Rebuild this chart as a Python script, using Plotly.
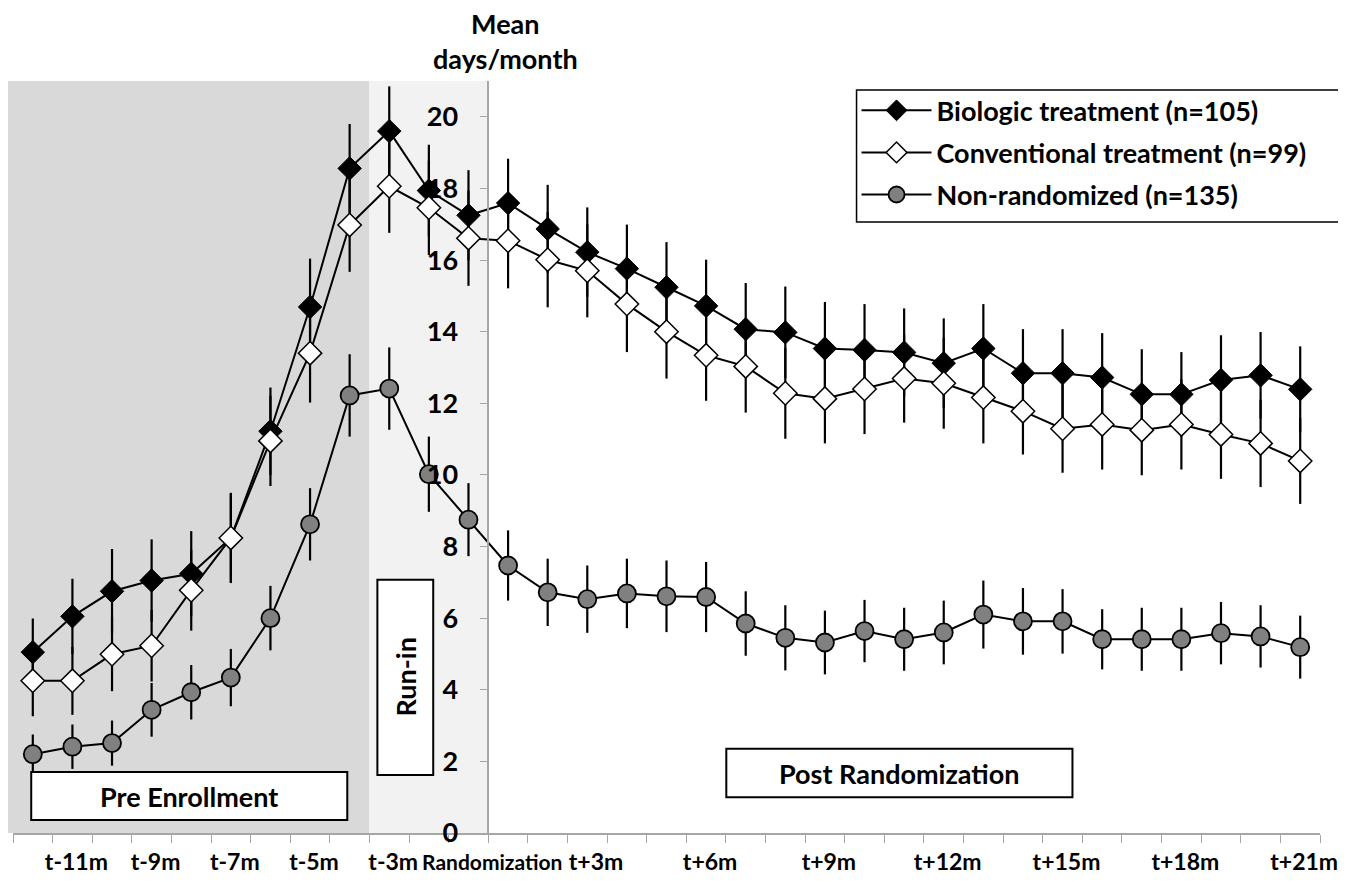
import plotly.graph_objects as go

# ---- data -------------------------------------------------------------
periods = ["t-12m", "t-11m", "t-10m", "t-9m", "t-8m", "t-7m", "t-6m", "t-5m",
           "t-4m", "t-3m", "Run-in", "Randomization",
           "t+1m", "t+2m", "t+3m", "t+4m", "t+5m", "t+6m", "t+7m", "t+8m",
           "t+9m", "t+10m", "t+11m", "t+12m", "t+13m", "t+14m", "t+15m",
           "t+16m", "t+17m", "t+18m", "t+19m", "t+20m", "t+21m"]

biologic = [5.05, 6.05, 6.75, 7.05, 7.24, 8.24, 11.22, 14.69, 18.56, 19.60, 17.94,
            17.25, 17.59, 16.87, 16.22, 15.76, 15.24, 14.72, 14.07, 13.98, 13.53,
            13.49, 13.42, 13.12, 13.53, 12.84, 12.84, 12.72, 12.25, 12.25, 12.65,
            12.78, 12.39]
biologic_err = [0.94, 1.05, 1.18, 1.15, 1.19, 1.26, 1.22, 1.35, 1.24, 1.25, 1.28,
                1.26, 1.24, 1.23, 1.25, 1.23, 1.26, 1.29, 1.29, 1.28, 1.30,
                1.28, 1.23, 1.25, 1.24, 1.23, 1.23, 1.24, 1.26, 1.18, 1.25,
                1.21, 1.20]

conventional = [4.25, 4.25, 4.99, 5.23, 6.78, 8.24, 10.95, 13.40, 16.98, 18.06, 17.46,
                16.61, 16.54, 16.01, 15.70, 14.77, 14.00, 13.34, 13.03, 12.28, 12.13,
                12.40, 12.69, 12.56, 12.16, 11.78, 11.29, 11.41, 11.25, 11.41, 11.13,
                10.88, 10.39]
conventional_err = [0.99, 0.95, 1.03, 1.00, 1.13, 1.24, 1.26, 1.38, 1.31, 1.30, 1.32,
                    1.33, 1.33, 1.33, 1.30, 1.34, 1.31, 1.27, 1.29, 1.27, 1.25,
                    1.26, 1.23, 1.27, 1.28, 1.21, 1.23, 1.26, 1.26, 1.26, 1.24,
                    1.22, 1.20]

nonrandomized = [2.20, 2.41, 2.51, 3.44, 3.93, 4.34, 6.00, 8.62, 12.22, 12.41, 10.02,
                 8.75, 7.47, 6.72, 6.53, 6.69, 6.61, 6.59, 5.85, 5.45, 5.32,
                 5.64, 5.41, 5.60, 6.10, 5.91, 5.91, 5.41, 5.41, 5.41, 5.58,
                 5.49, 5.19]
nonrandomized_err = [0.55, 0.62, 0.63, 0.75, 0.76, 0.80, 0.90, 1.01, 1.15, 1.15, 1.05,
                     1.02, 0.98, 0.94, 0.94, 0.97, 1.00, 0.98, 0.90, 0.91, 0.89,
                     0.87, 0.88, 0.89, 0.95, 0.93, 0.90, 0.84, 0.88, 0.88, 0.87,
                     0.87, 0.88]

tick_labels = ["t-11m", "t-9m", "t-7m", "t-5m", "t-3m", "Randomization", "t+3m",
               "t+6m", "t+9m", "t+12m", "t+15m", "t+18m", "t+21m"]

series_names = ["Biologic treatment (n=105)", "Conventional treatment (n=99)",
                "Non-randomized (n=135)"]
y_ticks = [0, 2, 4, 6, 8, 10, 12, 14, 16, 18, 20]

# ---- figure -----------------------------------------------------------
FONT = "Lato"
xs = list(range(len(periods)))
label_shift = {"Randomization": 0.6, "t+3m": 0.22}
tick_pos = [periods.index(t) + label_shift.get(t, 0.1) for t in tick_labels]
tick_text = [("<span style='font-size:21px'>%s</span>" % t) if t == "Randomization" else t
             for t in tick_labels]

fig = go.Figure()

styles = [
    dict(symbol="diamond", size=18, color="black", line=dict(color="black", width=1)),
    dict(symbol="diamond", size=18, color="white", line=dict(color="black", width=1.5)),
    dict(symbol="circle", size=18, color="#808080", line=dict(color="black", width=1.8)),
]
for name, vals, errs, mk in zip(series_names,
                                [biologic, conventional, nonrandomized],
                                [biologic_err, conventional_err, nonrandomized_err],
                                styles):
    fig.add_trace(go.Scatter(
        x=xs, y=vals, name=name, mode="lines+markers",
        legendgroup=name,
        line=dict(color="black", width=2),
        marker=mk,
        error_y=dict(type="data", array=errs, visible=True, color="black",
                     thickness=2.2, width=0),
        cliponaxis=False,
    ))

shapes = [
    # pre-enrollment shaded period
    dict(type="rect", xref="paper", yref="paper", x0=-0.0042, x1=(8.5 + 0.5) / 33,
         y0=0, y1=1, fillcolor="#d9d9d9", line=dict(width=0), layer="below"),
    # run-in shaded period
    dict(type="rect", xref="paper", yref="paper", x0=(8.5 + 0.5) / 33, x1=(11.5 + 0.5) / 33,
         y0=0, y1=1, fillcolor="#f2f2f2", line=dict(width=0), layer="below"),
    # label boxes
    dict(type="rect", xref="x", yref="y", x0=-0.04, x1=7.94, y0=0.36, y1=1.70,
         fillcolor="white", line=dict(color="black", width=2), layer="above"),
    dict(type="rect", xref="x", yref="y", x0=8.70, x1=10.11, y0=1.62, y1=7.07,
         fillcolor="white", line=dict(color="black", width=2), layer="above"),
    dict(type="rect", xref="x", yref="y", x0=17.51, x1=26.25, y0=1.0, y1=2.35,
         fillcolor="white", line=dict(color="black", width=2), layer="above"),
    # legend frame
    dict(type="rect", xref="paper", yref="paper", x0=0.6454, x1=1.0187, y0=0.8125, y1=0.988,
         fillcolor="white", line=dict(color="black", width=1.5), layer="above"),
]

annotations = [
    dict(text="Pre Enrollment", x=3.95, y=1.03, xref="x", yref="y", showarrow=False),
    dict(text="Run-in", x=9.405, y=4.35, xref="x", yref="y", showarrow=False, textangle=-90),
    dict(text="Post Randomization", x=21.88, y=1.67, xref="x", yref="y", showarrow=False),
    dict(text="Mean<br>days/month", x=(11.5 + 0.5) / 33 + 0.013, y=1.0, xref="paper",
         yref="paper", yanchor="bottom", yshift=4, showarrow=False),
]

fig.update_layout(
    width=1338, height=873,
    margin=dict(l=5, r=26, t=73, b=48, autoexpand=False),
    paper_bgcolor="white", plot_bgcolor="rgba(0,0,0,0)",
    font=dict(family=FONT, size=27, color="black", weight="bold"),
    showlegend=True,
    legend=dict(x=0.6454, y=0.993, xanchor="left", yanchor="top",
                bgcolor="rgba(0,0,0,0)", borderwidth=0,
                font=dict(family=FONT, size=27, color="black", weight="bold"),
                tracegroupgap=4, itemwidth=70),
    shapes=shapes,
    annotations=annotations,
    xaxis=dict(range=[-0.5, 32.5], tickmode="array", tickvals=tick_pos, ticktext=tick_text,
               ticks="", tickangle=0, automargin=False, tickfont=dict(size=23),
               showline=True, linecolor="#a6a6a6", linewidth=1.5,
               showgrid=False, zeroline=False, ticklabelstandoff=8,
               minor=dict(tickmode="array", tickvals=[i - 0.5 for i in range(len(periods) + 1)],
                          ticks="outside", ticklen=8, tickcolor="#a6a6a6", tickwidth=1.2,
                          showgrid=False)),
    yaxis=dict(range=[0, 21], anchor="free", position=(11.5 + 0.5) / 33, automargin=False,
               tickmode="array", tickvals=y_ticks, ticks="outside", ticklen=8,
               tickcolor="#a6a6a6", showline=True, linecolor="#a6a6a6", linewidth=1.5,
               showgrid=False, zeroline=False, ticklabelstandoff=16),
)

fig.write_html("out.html")
